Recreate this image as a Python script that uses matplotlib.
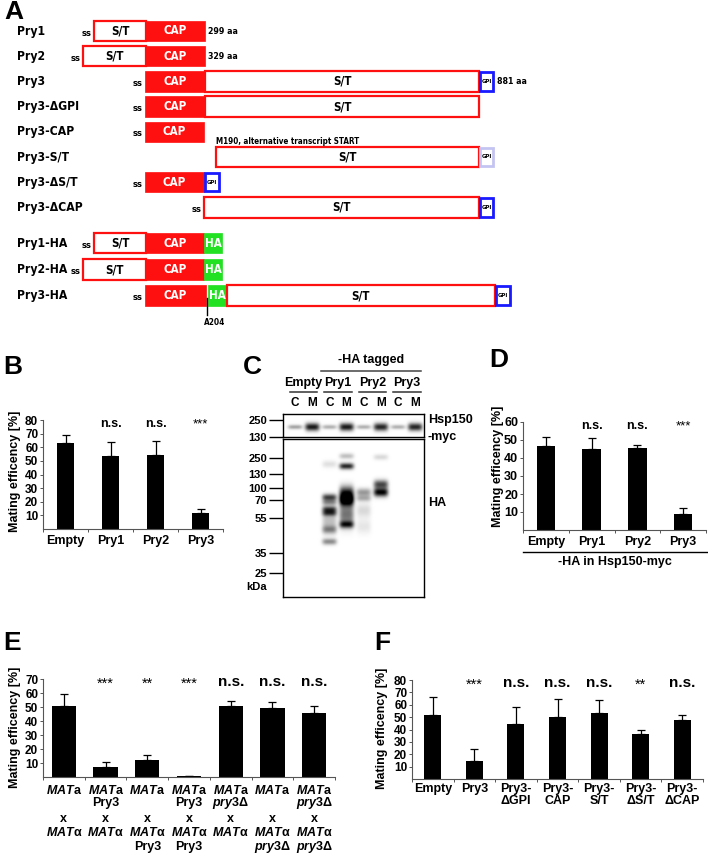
import numpy as np
import matplotlib
matplotlib.use('Agg')
import matplotlib.pyplot as plt
import matplotlib.patches as mpatches
import matplotlib.transforms as mtransforms
from matplotlib import font_manager as fm
from matplotlib.textpath import TextToPath

W, H = 708, 855

# ---------------- data ----------------
# A: construct schematic, domain boundaries in schematic units
constructs = ['Pry1', 'Pry2', 'Pry3', 'Pry3-ΔGPI', 'Pry3-CAP', 'Pry3-S/T',
              'Pry3-ΔS/T', 'Pry3-ΔCAP', 'Pry1-HA', 'Pry2-HA', 'Pry3-HA']
row_pos = [0, 1, 2, 3, 4, 5, 6, 7, 8.42, 9.47, 10.5]
domains = [
    [('ST', 94, 146), ('CAP', 146, 205)],
    [('ST', 83, 146), ('CAP', 146, 205)],
    [('CAP', 145, 205), ('ST', 205, 479), ('GPI', 479, 494)],
    [('CAP', 145, 205), ('ST', 205, 479)],
    [('CAP', 145, 204)],
    [('ST', 216, 479), ('GPIfaint', 479, 494)],
    [('CAP', 145, 204), ('GPI', 204, 220)],
    [('ST', 204, 479), ('GPI', 479, 494)],
    [('ST', 94, 146), ('CAP', 146, 204), ('HA', 204, 222)],
    [('ST', 83, 146), ('CAP', 146, 204), ('HA', 204, 222)],
    [('CAP', 145, 206), ('HA', 208, 227), ('ST', 227, 495), ('GPI', 495, 511)],
]
has_ss = [True, True, True, True, True, False, True, True, True, True, True]
length_note = ['299 aa', '329 aa', '881 aa', '', '', '', '', '', '', '', '']
alt_start_note = 'M190, alternative transcript START'
ha_site = 207
ha_site_label = 'A204'

# B
b_labels = ['Empty', 'Pry1', 'Pry2', 'Pry3']
b_mean = [63, 53.5, 54.3, 11.8]
b_err = [6, 10.5, 10.2, 2.9]
b_sig = ['', 'n.s.', 'n.s.', '***']

# C: western blot
blot_groups = ['Empty', 'Pry1', 'Pry2', 'Pry3']
blot_lanes = ['C', 'M', 'C', 'M', 'C', 'M', 'C', 'M']
marker_kda = ['250', '130', '100', '70', '55', '35', '25']
marker_pos = [19, 35, 49, 61, 79, 114, 134]
hsp_marker_kda = ['250', '130']
hsp_marker_pos = [6, 23]
hsp_amp = [0.35, 0.9, 0.3, 0.9, 0.3, 0.85, 0.3, 0.85]
# (lane, migration, intensity, spread)
ha_bands = [
    (2, 26, 0.12, 2.5), (2, 59, 0.75, 2.4), (2, 64, 0.4, 2.0),
    (2, 71, 0.7, 2.4), (2, 75, 0.5, 2.0), (2, 91, 0.4, 2.8),
    (2, 103, 0.45, 2.2), (2, 82, 0.25, 8.0),
    (3, 18, 0.25, 2.0), (3, 28, 0.85, 2.2), (3, 55, 0.9, 5.0),
    (3, 62, 1.0, 4.0), (3, 76, 0.55, 8.0), (3, 86, 0.75, 2.5),
    (4, 54, 0.4, 2.8), (4, 60, 0.3, 2.2), (4, 72, 0.15, 5.0),
    (4, 88, 0.1, 5.0),
    (5, 19, 0.15, 2.0), (5, 46, 0.7, 3.0), (5, 54, 1.0, 3.0),
]

# D
d_labels = ['Empty', 'Pry1', 'Pry2', 'Pry3']
d_mean = [46.5, 45, 45.5, 9]
d_err = [5, 6, 1.5, 3]
d_sig = ['', 'n.s.', 'n.s.', '***']

# E
e_a_mod = ['', 'Pry3', '', 'Pry3', 'pry3Δ', '', 'pry3Δ']
e_alpha_mod = ['', '', 'Pry3', 'Pry3', '', 'pry3Δ', 'pry3Δ']
e_mean = [50.5, 7, 12.5, 0.4, 51, 49.5, 46]
e_err = [9, 4, 3.5, 0.5, 3.5, 4, 4.5]
e_sig = ['', '***', '**', '***', 'n.s.', 'n.s.', 'n.s.']

# F
f_labels = ['Empty', 'Pry3', 'Pry3-\nΔGPI', 'Pry3-\nCAP', 'Pry3-\nS/T',
            'Pry3-\nΔS/T', 'Pry3-\nΔCAP']
f_mean = [51.5, 14.5, 44.5, 50.5, 53, 36, 47.5]
f_err = [15, 9.5, 13.5, 14.5, 11, 4, 4]
f_sig = ['', '***', 'n.s.', 'n.s.', 'n.s.', '**', 'n.s.']

# ---------------- style ----------------
plt.rcParams['font.family'] = ['Liberation Sans', 'DejaVu Sans']
plt.rcParams['font.weight'] = 'bold'
plt.rcParams['mathtext.fontset'] = 'custom'
plt.rcParams['mathtext.it'] = 'Liberation Sans:italic:bold'
plt.rcParams['mathtext.rm'] = 'Liberation Sans:bold'
plt.rcParams['mathtext.bf'] = 'Liberation Sans:bold'


# pick a condensed bold face for the schematic if one is installed
def condensed_font():
    best, best_score = None, None
    for f in fm.fontManager.ttflist:
        cond = (f.stretch in ('condensed', 'semi-condensed') or
                'Narrow' in f.name or 'Condensed' in f.name)
        if not cond or f.style != 'normal' or 'CJK' in f.name:
            continue
        w = f.weight if isinstance(f.weight, int) else (700 if 'bold' in str(f.weight) else 400)
        score = abs(w - 700)
        if best_score is None or score < best_score:
            best, best_score = f.fname, score
    if best:
        return fm.FontProperties(fname=best)
    return fm.FontProperties(family='Liberation Sans', weight='bold')


NARROW = condensed_font()


def nprop(size):
    p = NARROW.copy()
    p.set_size(size)
    return p


# size scale so that the longest construct label spans ~62 px like the reference
_w, _, _ = TextToPath().get_text_width_height_descent('Pry3-ΔGPI', nprop(11), ismath=False)
nscale = min(1.25, 62 / (_w * 100 / 72))

RED = '#ff1010'
GREEN = '#22e022'
BLUE = '#1a1aff'
SPINE = '#555555'


def rect(l, t, w, h):
    return [l / W, 1 - (t + h) / H, w / W, h / H]


fig = plt.figure(figsize=(W / 100, H / 100), dpi=100)

ov = fig.add_axes([0, 0, 1, 1])
ov.set_xlim(0, W)
ov.set_ylim(H, 0)
ov.axis('off')

for letter, x, y in [('A', 4, 12), ('B', 3, 367), ('C', 243, 367),
                     ('D', 489, 360), ('E', 3, 643), ('F', 374, 643)]:
    ov.text(x, y, letter, fontsize=19, fontweight='bold', ha='left', va='center')

# ---------------- A ----------------
axA = fig.add_axes(rect(0, 0, W, 330))
axA.set_xlim(0, W)
axA.set_ylim((330 - 31) / 25.2, -31 / 25.2)
axA.axis('off')
hbox = 0.81
for name, y, segs, ss, note in zip(constructs, row_pos, domains, has_ss, length_note):
    axA.text(17, y, name, ha='left', va='center', fontproperties=nprop(11 * nscale))
    for kind, x0, x1 in segs:
        xc = (x0 + x1) / 2
        if kind == 'ST':
            axA.add_patch(mpatches.Rectangle((x0, y - hbox / 2), x1 - x0, hbox,
                                             fc='white', ec=RED, lw=1.6))
            axA.text(xc, y, 'S/T', ha='center', va='center',
                     fontproperties=nprop(10.5 * nscale))
        elif kind == 'CAP':
            axA.add_patch(mpatches.Rectangle((x0, y - hbox / 2), x1 - x0, hbox,
                                             fc=RED, ec=RED, lw=0.5))
            axA.text(xc, y, 'CAP', ha='center', va='center', color='white',
                     fontproperties=nprop(10.5 * nscale))
        elif kind == 'HA':
            axA.add_patch(mpatches.Rectangle((x0, y - hbox / 2), x1 - x0, hbox,
                                             fc=GREEN, ec=GREEN, lw=0.5))
            axA.text(xc, y, 'HA', ha='center', va='center', color='white',
                     fontproperties=nprop(10.5 * nscale))
        else:
            ec = BLUE if kind == 'GPI' else '#c4c4f2'
            axA.add_patch(mpatches.Rectangle((x0 + 0.8, y - hbox / 2 + 0.04),
                                             x1 - x0 - 1.6, hbox - 0.08,
                                             fc='white', ec=ec, lw=2.0))
            axA.text(xc, y, 'GPI', ha='center', va='center',
                     fontproperties=nprop(5.5 * nscale))
    start = segs[0][1]
    end = segs[-1][2]
    if ss:
        axA.text(start - 2.5, y + 0.08, 'ss', ha='right', va='center',
                 fontproperties=nprop(8.5 * nscale))
    if note:
        axA.text(end + 3, y, note, ha='left', va='center',
                 fontproperties=nprop(8 * nscale))
    if name == 'Pry3-S/T':
        axA.text(start, y - 0.62, alt_start_note, ha='left', va='center',
                 fontproperties=nprop(7.3 * nscale))
    if name == 'Pry3-HA':
        axA.plot([ha_site, ha_site], [y + 0.1, y + 0.78], color='black', lw=1)
        axA.text(ha_site + 8, y + 1.07, ha_site_label, ha='center', va='center',
                 fontproperties=nprop(7.5 * nscale))


# ---------------- bar panels ----------------
def bar_panel(r, means, errs, sig, ymax, width, tick_fs, ns_fs, star_fs):
    ax = fig.add_axes(rect(*r))
    x = np.arange(len(means))
    ax.bar(x, means, width, color='black', zorder=2)
    ax.errorbar(x, means, yerr=[np.zeros(len(means)), errs], fmt='none',
                ecolor='black', elinewidth=0.9, capsize=3, capthick=0.9, zorder=1)
    ax.set_xlim(-0.5, len(means) - 0.5)
    ax.set_ylim(0, ymax)
    ax.set_yticks(np.arange(10, ymax + 1, 10))
    ax.set_xticks(x)
    ax.set_xticks(np.arange(len(means) + 1) - 0.5, minor=True)
    ax.tick_params(axis='x', which='major', length=0, pad=4)
    ax.tick_params(axis='x', which='minor', length=2.5, width=0.7, color=SPINE)
    ax.tick_params(axis='y', length=2.5, width=0.7, color=SPINE,
                   labelsize=tick_fs, pad=1)
    for s in ['top', 'right']:
        ax.spines[s].set_visible(False)
    for s in ['left', 'bottom']:
        ax.spines[s].set_color(SPINE)
        ax.spines[s].set_linewidth(0.8)
    for i, s in enumerate(sig):
        if s == 'n.s.':
            ax.text(i, ymax * 0.965, s, ha='center', va='center',
                    fontsize=ns_fs, fontweight='bold')
        elif s:
            ax.text(i, ymax * 0.955, s, ha='center', va='center',
                    fontsize=star_fs, fontweight='normal')
    return ax


ylab = 'Mating efficency [%]'

axB = bar_panel((43, 420, 180, 109), b_mean, b_err, b_sig, 80, 0.39, 8.5, 9, 9.5)
axB.set_xticklabels(b_labels, fontsize=9, fontweight='bold')
ov.text(15, 471, ylab, rotation=90, ha='center', va='center', fontsize=9,
        fontweight='bold')

axD = bar_panel((523, 422, 183, 108), d_mean, d_err, d_sig, 60, 0.4, 9, 9, 9.5)
axD.set_xticklabels(d_labels, fontsize=9, fontweight='bold')
ov.text(498, 466, ylab, rotation=90, ha='center', va='center', fontsize=9,
        fontweight='bold')
ov.plot([523, 708], [552, 552], color='black', lw=1)
ov.text(615, 562, '-HA in Hsp150-myc', ha='center', va='center', fontsize=9,
        fontweight='bold')

axE = bar_panel((43, 679, 292, 98), e_mean, e_err, e_sig, 70, 0.58, 8.5, 11, 10.5)
axE.set_xticklabels([])
e_rows = []
for am, alm in zip(e_a_mod, e_alpha_mod):
    fa = '$\\mathit{' + am + '}$' if am.startswith('pry') else am
    fal = '$\\mathit{' + alm + '}$' if alm.startswith('pry') else alm
    e_rows.append(['$\\mathit{MAT}$a', fa, 'x', '$\\mathit{MAT}$α', fal])
row_off = [9.4, 18.9, 30.0, 40.3, 50.4]
for i, rows in enumerate(e_rows):
    for txt, off in zip(rows, row_off):
        if txt:
            axE.annotate(txt, xy=(i, 0), xycoords=('data', 'axes fraction'),
                         xytext=(0, -off), textcoords='offset points',
                         ha='center', va='center', fontsize=9, fontweight='bold')
ov.text(15, 727, ylab, rotation=90, ha='center', va='center', fontsize=9,
        fontweight='bold')

axF = bar_panel((412, 680, 291, 99), f_mean, f_err, f_sig, 80, 0.41, 8.5, 11, 10.5)
axF.set_xticklabels(f_labels, fontsize=9, fontweight='bold', linespacing=1.0)
axF.tick_params(axis='x', which='major', pad=3)
ov.text(382, 728, ylab, rotation=90, ha='center', va='center', fontsize=9,
        fontweight='bold')


# ---------------- C: blot ----------------
def blot_image(bands, nrows, xlo, xhi):
    xs = np.linspace(xlo, xhi, 320)
    ys = np.arange(nrows) + 0.5
    img = np.zeros((nrows, xs.size))
    for lane, pos, amp, spread in bands:
        px = np.exp(-((xs - lane) / 0.42) ** 4)
        py = np.exp(-0.5 * ((ys - pos) / spread) ** 2)
        img += amp * np.outer(py, px)
    return np.clip(img, 0, 1)


xlo, xhi = -0.7, 7.5
axCu = fig.add_axes(rect(283, 414, 141, 23))
hsp_bands = [(k, 13, a, 2.8 if a > 0.5 else 1.6) for k, a in enumerate(hsp_amp)]
axCu.imshow(blot_image(hsp_bands, 23, xlo, xhi), cmap='gray_r', vmin=0, vmax=1,
            extent=[xlo, xhi, 23, 0], aspect='auto', interpolation='bilinear')
axCu.set_xlim(xlo, xhi)
axCu.set_ylim(23, 0)

axCl = fig.add_axes(rect(283, 439, 141, 158))
axCl.imshow(blot_image(ha_bands, 158, xlo, xhi), cmap='gray_r', vmin=0, vmax=1,
            extent=[xlo, xhi, 158, 0], aspect='auto', interpolation='bilinear')
axCl.set_xlim(xlo, xhi)
axCl.set_ylim(158, 0)

for ax, pos, lab in [(axCu, hsp_marker_pos, hsp_marker_kda),
                     (axCl, marker_pos, marker_kda)]:
    ax.set_xticks([])
    ax.set_yticks(pos)
    ax.set_yticklabels(lab, fontsize=8, fontweight='bold')
    ax.tick_params(axis='y', length=10, width=1, pad=1.5)
    for s in ax.spines.values():
        s.set_linewidth(1.0)

ov.text(267, 587, 'kDa', ha='right', va='center', fontsize=8, fontweight='bold')
ov.text(428, 420, 'Hsp150', ha='left', va='center', fontsize=9, fontweight='bold')
ov.text(428, 437, '-myc', ha='left', va='center', fontsize=9, fontweight='bold')
ov.text(428, 503, 'HA', ha='left', va='center', fontsize=9, fontweight='bold')

trans = mtransforms.blended_transform_factory(axCu.transData, axCu.transAxes)


def above(pts):
    return mtransforms.offset_copy(trans, fig=fig, x=0, y=pts, units='points')


for k, lane in enumerate(blot_lanes):
    axCu.text(k, 1, lane, transform=above(7.9), ha='center', va='center',
              fontsize=8.5, fontweight='bold', clip_on=False)
for g, name in enumerate(blot_groups):
    axCu.text(2 * g + 0.5, 1, name, transform=above(22.3), ha='center',
              va='center', fontsize=9, fontweight='bold', clip_on=False)
    axCu.plot([2 * g - 0.3, 2 * g + 1.3], [1, 1], transform=above(15.8),
              color='#333333', lw=1.1, clip_on=False)
axCu.plot([1.5, 7.3], [1, 1], transform=above(31), color='#444444', lw=1.1,
          clip_on=False)
axCu.text(4.4, 1, '-HA tagged', transform=above(38.9), ha='center', va='center',
          fontsize=9, fontweight='bold', clip_on=False)

fig.savefig('out.png', dpi=100)
